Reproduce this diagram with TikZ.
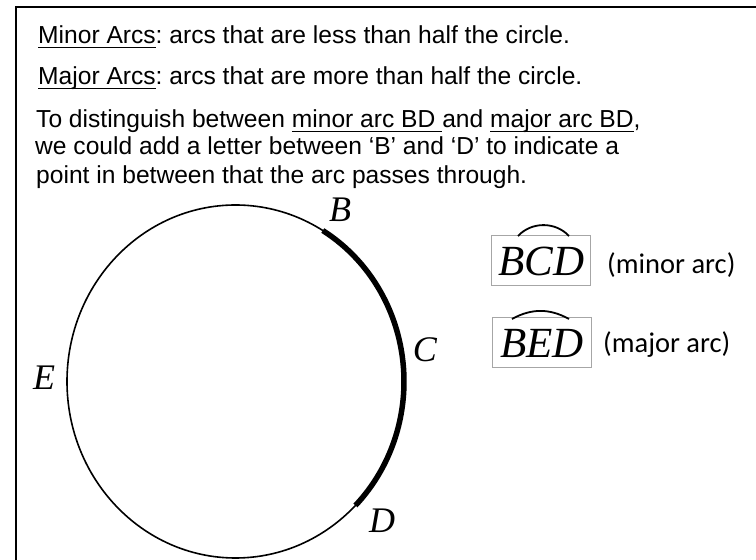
\documentclass[tikz,border=0pt]{standalone}
\usepackage{fontspec}
\setmainfont{Liberation Sans}
\newfontfamily\calfont{Carlito}
\newfontfamily\tmsfont{Liberation Serif}
\usetikzlibrary{calc}
\frenchspacing
\newlength\ulw
\newcommand\ulin[1]{\settowidth\ulw{#1}\rlap{\rule[-4pt]{\ulw}{1.2pt}}#1}
\begin{document}
\begin{tikzpicture}[x=1pt,y=1pt,
  bodytext/.style={anchor=base west,inner sep=0pt,font=\fontsize{24.6}{28}\selectfont},
  ptlabel/.style={inner sep=0pt,font=\tmsfont\itshape\fontsize{36}{40}\selectfont},
  arcbox/.style={draw=black!35,line width=1pt,minimum width=99pt,minimum height=50pt,inner sep=0pt,font=\tmsfont\itshape\fontsize{43}{46}\selectfont},
  note/.style={anchor=west,inner sep=0pt,font=\calfont\fontsize{28.5}{32}\selectfont},
  thin circle/.style={line width=1.6pt},
  thick arc/.style={line width=5.5pt},
  accent/.style={line width=1.8pt}]
\useasboundingbox (0,0) rectangle (756,560);
\clip (0,0) rectangle (756,560);
\fill[white] (0,0) rectangle (756,560);
% frame
\coordinate (f1) at (16,-5);
\coordinate (f2) at (16,553);
\coordinate (f3) at (770,553);
\draw[line width=2pt] (f1) -- (f2) -- (f3);
% text
\node[bodytext] (t1) at (38,516) {\ulin{Minor Arcs}: arcs that are less than half the circle.};
\node[bodytext] (t2) at (38,475) {\ulin{Major Arcs}: arcs that are more than half the circle.};
\node[bodytext] (t3) at (36,432) {To distinguish between \ulin{minor arc BD }and \ulin{major arc BD},};
\node[bodytext] (t4) at (35,405) {we could add a letter between ‘B’ and ‘D’ to indicate a};
\node[bodytext] (t5) at (36,376) {point in between that the arc passes through.};
% circle
\coordinate (O) at (235.5,178.5);
\draw[thin circle] (O) ellipse [x radius=168.5, y radius=176.5];
\coordinate (Bpt) at ($(O)+(58.8:168.5 and 176.5)$);
\draw[thick arc] (Bpt) arc[start angle=58.8, end angle=-44.6, x radius=168.5, y radius=176.5];
% labels
\node[ptlabel] (B) at (340,350) {B};
\node[ptlabel] (C) at (425,210) {C};
\node[ptlabel] (E) at (44,182) {E};
\node[ptlabel] (D) at (382,39) {D};
% boxes
\node[arcbox] (bcd) at (541.3,299) {BCD};
\coordinate (bcd1) at (518,324);
\coordinate (bcd2) at (569,324);
\draw[accent] (bcd1) to[bend left=47] (bcd2);
\node[note] (minor) at (607,295) {(minor arc)};
\node[arcbox] (bed) at (542,217) {BED};
\coordinate (bed1) at (512,241);
\coordinate (bed2) at (569,241);
\draw[accent] (bed1) to[bend left=29] (bed2);
\node[note] (major) at (603,215) {(major arc)};
\end{tikzpicture}
\end{document}
